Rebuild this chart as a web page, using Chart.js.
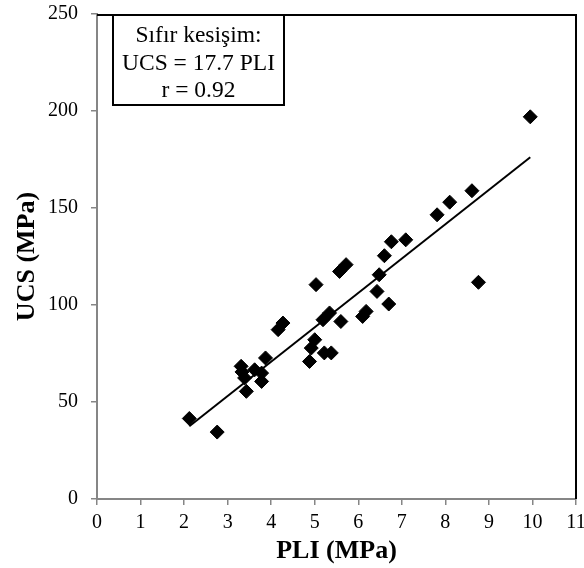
<!DOCTYPE html>
<html>
<head>
<meta charset="utf-8">
<script src="https://cdn.jsdelivr.net/npm/chart.js@4/dist/chart.umd.min.js"></script>
<style>
html,body{margin:0;padding:0;background:#fff;}
#wrap{width:584px;height:568px;position:relative;}
</style>
</head>
<body>
<div id="wrap"><canvas id="c" width="584" height="568"></canvas></div>
<script>
// Data
const pliValues = [2.12,2.76,3.31,3.33,3.39,3.43,3.62,3.78,3.78,3.87,4.16,4.27,4.88,4.92,5.00,5.03,5.19,5.22,5.34,5.38,5.57,5.60,5.72,6.10,6.18,6.43,6.48,6.60,6.70,6.76,7.09,7.81,8.10,8.61,8.76,9.95];
const ucsValues = [41.5,34.5,68.4,65.5,62.4,55.5,66.6,64.9,60.6,72.7,87.3,90.7,70.9,77.8,82.1,110.5,92.4,75.3,95.9,75.3,117.3,91.5,120.8,94.1,96.7,107.0,115.6,125.4,100.5,132.6,133.6,146.5,153.0,158.9,111.7,197.0];
const fitSlope = 17.7;
const fitRangeX = [2.12, 9.95];
const boxLines = ["Sıfır kesişim:", "UCS = 17.7 PLI", "r = 0.92"];
const xTitle = "PLI (MPa)";
const yTitle = "UCS (MPa)";

const pts = pliValues.map((x,i)=>({x:x, y:ucsValues[i]}));
const fitPts = fitRangeX.map(x=>({x:x, y:fitSlope*x}));

const FONT = "'Liberation Serif','Times New Roman',serif";
const AXIS_GRAY = '#868686';

const framePlugin = {
  id:'frame',
  beforeDraw(chart){
    const c=chart.ctx; c.save(); c.fillStyle='#fff'; c.fillRect(0,0,chart.width,chart.height); c.restore();
  },
  afterDraw(chart){
    const {ctx, chartArea:a} = chart;
    ctx.save();
    // top and right frame
    ctx.strokeStyle='#000'; ctx.lineWidth=2;
    ctx.beginPath();
    ctx.moveTo(a.left, a.top+1); ctx.lineTo(a.right, a.top+1);
    ctx.moveTo(a.right, a.top); ctx.lineTo(a.right, a.bottom);
    ctx.stroke();
    // annotation box
    const bx = a.left+15, by = a.top, bw = 173, bh = 92;
    ctx.fillStyle='#fff';
    ctx.fillRect(bx,by,bw,bh);
    ctx.lineWidth=2; ctx.strokeStyle='#000';
    ctx.strokeRect(bx+1,by+1,bw-2,bh-2);
    ctx.fillStyle='#000';
    ctx.font = "23.5px " + FONT;
    ctx.textAlign='center'; ctx.textBaseline='alphabetic';
    const cx = bx + bw/2;
    const baselines=[28,56,83];
    boxLines.forEach((t,i)=>ctx.fillText(t, cx, by+baselines[i]));
    ctx.restore();
  }
};

new Chart(document.getElementById('c'), {
  type:'scatter',
  data:{
    datasets:[
      {
        type:'line',
        data: fitPts,
        borderColor:'#000',
        borderWidth:2,
        pointRadius:0,
        fill:false,
        order:0
      },
      {
        data: pts,
        pointStyle:'rectRot',
        pointRadius:7,
        pointHoverRadius:7,
        backgroundColor:'#000',
        borderColor:'#000',
        borderWidth:1,
        order:1
      }
    ]
  },
  options:{
    responsive:false,
    animation:false,
    events:[],
    layout:{padding:{top:14,right:6,left:0,bottom:0}},
    plugins:{legend:{display:false}, tooltip:{enabled:false}},
    scales:{
      x:{
        type:'linear', min:0, max:11,
        ticks:{stepSize:1, color:'#000', font:{family:FONT,size:20}, padding:6, maxRotation:0, autoSkip:false},
        grid:{drawOnChartArea:false, drawTicks:true, tickLength:6, color:AXIS_GRAY, lineWidth:1.5},
        border:{display:true, color:AXIS_GRAY, width:2},
        title:{display:true, text:xTitle, color:'#000', font:{family:FONT,size:26,weight:'bold'}, padding:{top:0,bottom:1}},
        afterFit(s){ s.height = 69; s.paddingLeft=0; s.paddingRight=0; }
      },
      y:{
        type:'linear', min:0, max:250,
        ticks:{stepSize:50, color:'#000', font:{family:FONT,size:20}, padding:13},
        grid:{drawOnChartArea:false, drawTicks:true, tickLength:6, color:AXIS_GRAY, lineWidth:1.5},
        border:{display:true, color:AXIS_GRAY, width:2},
        title:{display:true, text:yTitle, color:'#000', font:{family:FONT,size:26,weight:'bold'}, padding:{top:12,bottom:0}},
        afterFit(s){ s.width = 97; s.paddingTop=0; s.paddingBottom=0; }
      }
    }
  },
  plugins:[framePlugin]
});
</script>
</body>
</html>
